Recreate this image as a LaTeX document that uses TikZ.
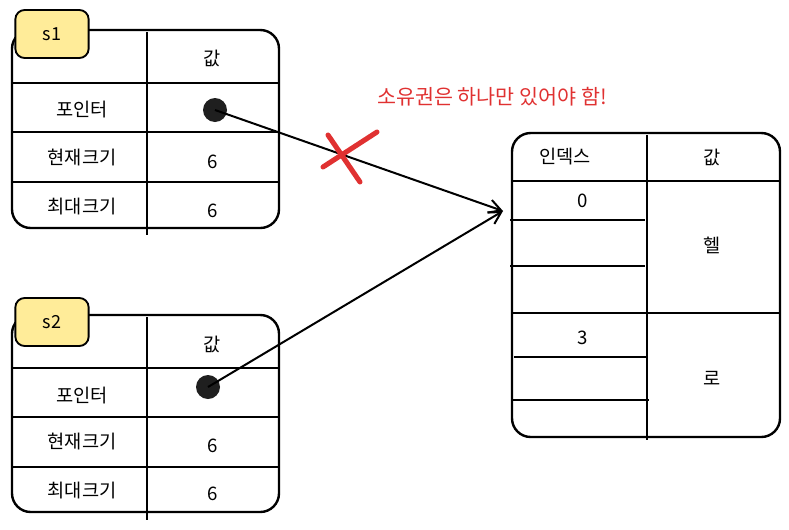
\documentclass[tikz,border=0pt]{standalone}
\usepackage{fontspec}
\setmainfont{Noto Sans CJK KR}
\usepackage{tikz}
\usetikzlibrary{arrows.meta}
\definecolor{tagyellow}{HTML}{FFEC99}
\definecolor{warnred}{HTML}{E03131}

\begin{document}
\begin{tikzpicture}[x=0.75pt,y=-0.75pt,>={Straight Barb[length=9pt,width=10pt]},
  tbl/.style={line width=1.8pt,rounded corners=14pt},
  grid/.style={line width=1.8pt},
  tag/.style={draw,line width=1.4pt,fill=tagyellow,rounded corners=7pt,minimum width=55pt,minimum height=36pt,font=\fontsize{13.5}{15}\selectfont},
  txt/.style={font=\fontsize{14}{16}\selectfont},
  ptr/.style={circle,fill=black!88,inner sep=0pt,minimum size=18pt}]
\useasboundingbox (0,0) rectangle (789,529);

% s1
\draw[tbl] (12,30) rectangle (279,228);
\draw[grid] (147,32) -- (147,235);
\draw[grid] (12,83) -- (279,83) (12,132) -- (279,132) (12,182) -- (279,182);
\node[tag] (s1) at (52,34) {s1};
\node[txt] (v1) at (212,58) {값};
\node[txt] (p1lbl) at (82,110) {포인터};
\node[txt] (c1lbl) at (82,158) {현재크기};
\node[txt] (c1) at (213,162) {6};
\node[txt] (m1lbl) at (82,207) {최대크기};
\node[txt] (m1) at (213,211) {6};
\node[ptr] (p1) at (215,110) {};

% s2
\draw[tbl] (12,315) rectangle (279,512);
\draw[grid] (147,317) -- (147,520);
\draw[grid] (12,368) -- (279,368) (12,417) -- (279,417) (12,467) -- (279,467);
\node[tag] (s2) at (52,322) {s2};
\node[txt] (v2) at (212,344) {값};
\node[txt] (p2lbl) at (82,396) {포인터};
\node[txt] (c2lbl) at (82,442) {현재크기};
\node[txt] (c2) at (213,446) {6};
\node[txt] (m2lbl) at (82,491) {최대크기};
\node[txt] (m2) at (213,494) {6};
\node[ptr] (p2) at (208,387) {};

% heap
\draw[tbl] (512,133) rectangle (780,437);
\draw[grid] (647,135) -- (647,440);
\draw[grid] (512,181) -- (780,181) (512,313) -- (780,313);
\draw[grid] (510,220) -- (645,220) (510,266) -- (645,266) (514,357) -- (647,357) (512,400) -- (649,400);
\node[txt] (idx) at (565,157) {인덱스};
\node[txt] (val) at (712,157) {값};
\node[txt] (i0) at (583,201) {0};
\node[txt] (hel) at (712,245) {헬};
\node[txt] (i3) at (583,338) {3};
\node[txt] (ro) at (712,378) {로};
\coordinate (in0) at (503,211);

\draw[->,line width=1.5pt] (p1.center) -- (in0);
\draw[->,line width=1.5pt] (p2.center) -- (in0);

\draw[warnred,line width=3.8pt,line cap=round] (328,135) -- (360,182) (377,132) -- (323,167);
\node[txt,text=warnred,font=\fontsize{15.5}{18}\selectfont] (warn) at (492,97) {소유권은 하나만 있어야 함!};
\end{tikzpicture}
\end{document}
